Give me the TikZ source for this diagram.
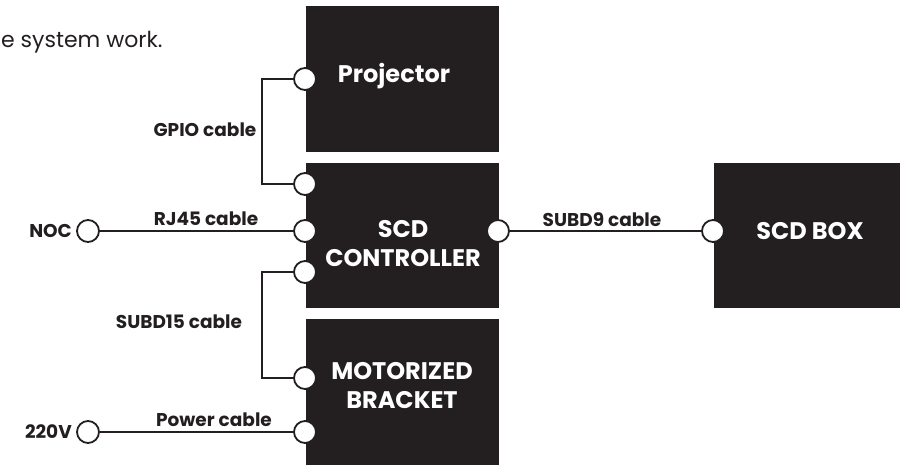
\documentclass[tikz,border=0pt]{standalone}
\usepackage{fontspec}
\setmainfont{Poppins}
\definecolor{ink}{HTML}{231F20}
\pgfdeclarelayer{background}
\pgfsetlayers{background,main}
\begin{document}
\begin{tikzpicture}[x=1pt,y=-1pt,
  unit/.style={fill=ink, draw=none, inner sep=0pt, anchor=north west, minimum width=193pt},
  port/.style={circle, draw=ink, fill=white, line width=1.8pt, minimum size=22pt, inner sep=0pt},
  wire/.style={draw=ink, line width=1.6pt},
  boxtext/.style={text=white, font=\bfseries\fontsize{24}{29}\selectfont, align=center, inner sep=0pt},
  lab/.style={text=ink, font=\bfseries\fontsize{18.5}{20}\selectfont, inner sep=0pt},
  intro/.style={text=ink, font=\fontsize{22}{24}\selectfont, inner sep=0pt}]
\useasboundingbox (0,0) rectangle (900,464);

% units
\node[unit, minimum height=146pt] (proj) at (306,6) {};
\node[unit, minimum height=145pt] (ctrl) at (306,163) {};
\node[unit, minimum height=146pt] (brkt) at (306,319) {};
\node[unit, minimum height=145pt, minimum width=186pt] (box) at (714,163) {};

% unit titles
\node[boxtext] (projT) at (394,76) {Projector};
\node[boxtext] (ctrlT) at (403,244) {SCD\\CONTROLLER};
\node[boxtext] (brktT) at (402,386) {MOTORIZED\\BRACKET};
\node[boxtext] (boxT) at (810,231) {SCD BOX};

% intro text
\node[intro, anchor=base west] (intro) at (1,47) {e system work.};

% ports
\node[port] (pProj) at (305,79) {};
\node[port] (pC1) at (305,184) {};
\node[port] (pC2) at (305,231) {};
\node[port] (pC3) at (305,272) {};
\node[port] (pCr) at (498,231) {};
\node[port] (pBox) at (713,231) {};
\node[port] (pB1) at (305,378) {};
\node[port] (pB2) at (305,432) {};
\node[port] (pNoc) at (88,231) {};
\node[port] (pPow) at (88,432) {};

% wires (behind ports)
\begin{pgfonlayer}{background}
\draw[wire] (pProj.center) -- (262,79) -- (262,184) -- (pC1.center);
\draw[wire] (pNoc.center) -- (pC2.center);
\draw[wire] (pC3.center) -- (262,272) -- (262,378) -- (pB1.center);
\draw[wire] (pPow.center) -- (pB2.center);
\draw[wire] (pCr.center) -- (pBox.center);
\end{pgfonlayer}

% labels
\node[lab] (lGpio) at (205,130) {GPIO cable};
\node[lab] (lRj) at (206,219) {RJ45 cable};
\node[lab, anchor=east] (lNoc) at (72,231) {NOC};
\node[lab] (lSub15) at (179,322) {SUBD15 cable};
\node[lab] (lPow) at (214,420) {Power cable};
\node[lab, anchor=east] (l220) at (72,432) {220V};
\node[lab] (lSub9) at (602,220) {SUBD9 cable};
\end{tikzpicture}
\end{document}
